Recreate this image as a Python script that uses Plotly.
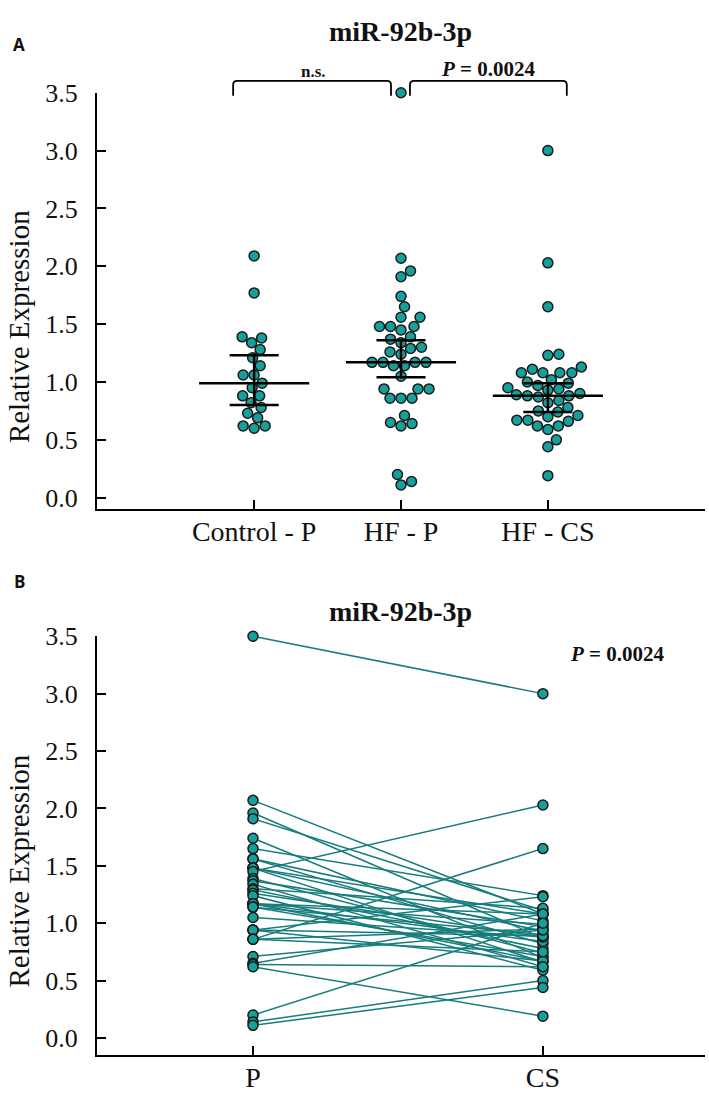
import numpy as np
import plotly.graph_objects as go

# ---------------- data ----------------
groups_a = ["Control - P", "HF - P", "HF - CS"]
control_p = [2.09, 1.77, 1.39, 1.38, 1.34, 1.28, 1.21, 1.14, 1.06, 1.06, 0.99,
             0.95, 0.88, 0.88, 0.82, 0.78, 0.73, 0.69, 0.62, 0.62, 0.60]
hf_p = [3.50, 2.07, 1.96, 1.91, 1.74, 1.65, 1.56, 1.56, 1.48, 1.48, 1.48, 1.45,
        1.39, 1.37, 1.34, 1.30, 1.29, 1.26, 1.24, 1.17, 1.17, 1.17, 1.17, 1.14,
        1.14, 1.05, 0.94, 0.94, 0.94, 0.86, 0.86, 0.86, 0.71, 0.65, 0.64, 0.62,
        0.20, 0.14, 0.11]
hf_cs = [3.00, 1.08, 0.87, 1.11, 0.70, 1.24, 0.82, 1.02, 0.66, 0.93, 1.08, 2.03,
         0.74, 0.97, 0.62, 1.13, 0.78, 0.88, 0.59, 0.99, 0.67, 1.08, 0.84, 0.71,
         0.90, 0.88, 1.23, 0.67, 0.89, 0.75, 1.65, 0.95, 0.94, 1.08, 0.62, 0.19,
         1.00, 0.50, 0.44]
center_line = [0.99, 1.17, 0.88]
lower_line = [0.80, 1.04, 0.74]
upper_line = [1.23, 1.36, 0.99]
groups_b = ["P", "CS"]
y_ticks = [0.0, 0.5, 1.0, 1.5, 2.0, 2.5, 3.0, 3.5]
title_txt = "miR-92b-3p"
p_txt = "<b><i>P</i> = 0.0024</b>"
ns_txt = "<b>n.s.</b>"

# ---------------- layout geometry ----------------
W, H = 709, 1101
X_DOM = [97 / W, 705 / W]
A_YDOM = [1 - 503 / H, 1 - 80 / H]
B_YDOM = [1 - 1057.5 / H, 1 - 632 / H]
A_XR, A_YR = [-1.07, 3.07], [-0.1, 3.5]
B_XR, B_YR = [-0.538, 1.559], [-0.15, 3.5]

FILL = "#16a09c"
EDGE = "#1a1a1a"
LINE_B = "#177c7c"
SERIF = "Liberation Serif, Times New Roman, serif"


def px_per_unit(dom, rng, total):
    return (dom[1] - dom[0]) * total / (rng[1] - rng[0])


ax_px = px_per_unit(X_DOM, A_XR, W)
ay_px = px_per_unit(A_YDOM, A_YR, H)


def swarm(vals, d=11.0):
    order = sorted(range(len(vals)), key=lambda i: vals[i])
    cands = sorted(np.arange(-80, 80.01, 0.5), key=lambda c: (abs(c), c < 0))
    placed, offs = [], [0.0] * len(vals)
    for i in order:
        y = vals[i] * ay_px
        for c in cands:
            if all((c - px) ** 2 + (y - py) ** 2 >= d * d for px, py in placed):
                break
        placed.append((c, y))
        offs[i] = c / ax_px
    return offs


fig = go.Figure()

# ---- panel A: dot plot ----
for gi, vals in enumerate([control_p, hf_p, hf_cs]):
    offs = swarm(vals)
    fig.add_trace(go.Scatter(
        x=[gi + o for o in offs], y=vals, mode="markers",
        marker=dict(size=10, color=FILL, line=dict(color=EDGE, width=1.5)),
        cliponaxis=False, showlegend=False, xaxis="x", yaxis="y"))

# mean and error lines
lx, ly = [], []
for gi in range(3):
    lx += [gi - 0.375, gi + 0.375, None, gi - 0.167, gi + 0.167, None,
           gi - 0.167, gi + 0.167, None, gi, gi, None]
    ly += [center_line[gi], center_line[gi], None, upper_line[gi], upper_line[gi], None,
           lower_line[gi], lower_line[gi], None, lower_line[gi], upper_line[gi], None]
fig.add_trace(go.Scatter(x=lx, y=ly, mode="lines", line=dict(color="black", width=2.5),
                         showlegend=False, xaxis="x", yaxis="y", hoverinfo="skip"))

# ---- panel B: paired lines ----
bx, by = [], []
for p, c in zip(hf_p, hf_cs):
    bx += [0, 1, None]
    by += [p, c, None]
fig.add_trace(go.Scatter(x=bx, y=by, mode="lines", line=dict(color=LINE_B, width=1.5),
                         showlegend=False, xaxis="x2", yaxis="y2", hoverinfo="skip"))
fig.add_trace(go.Scatter(x=[0] * len(hf_p) + [1] * len(hf_cs), y=hf_p + hf_cs, mode="markers",
                         marker=dict(size=10, color=FILL, line=dict(color=EDGE, width=1.5)),
                         cliponaxis=False, showlegend=False, xaxis="x2", yaxis="y2"))

axis_common = dict(showline=True, linecolor="black", linewidth=2, ticks="inside",
                   ticklen=9, tickwidth=1.5, tickcolor="black", showgrid=False,
                   zeroline=False)
yfont = dict(family=SERIF, size=26, color="#111")
xfont = dict(family=SERIF, size=28, color="#111")

fig.update_layout(
    width=W, height=H, margin=dict(l=0, r=0, t=0, b=0),
    paper_bgcolor="white", plot_bgcolor="white", showlegend=False,
    xaxis=dict(domain=X_DOM, range=A_XR, anchor="y", tickvals=[0, 1, 2],
               ticktext=groups_a, ticklabelstandoff=-4, tickfont=xfont, **axis_common),
    yaxis=dict(domain=A_YDOM, range=A_YR, anchor="x", tickvals=y_ticks,
               tickformat=".1f", ticklabelstandoff=12, tickfont=yfont, **axis_common),
    xaxis2=dict(domain=X_DOM, range=B_XR, anchor="y2", tickvals=[0, 1],
                ticktext=groups_b, ticklabelstandoff=-4, tickfont=xfont, **axis_common),
    yaxis2=dict(domain=B_YDOM, range=B_YR, anchor="x2", tickvals=y_ticks,
                tickformat=".1f", ticklabelstandoff=12, tickfont=yfont, **axis_common),
)


def to_paper_x(v, rng):
    return X_DOM[0] + (v - rng[0]) / (rng[1] - rng[0]) * (X_DOM[1] - X_DOM[0])


# brackets (panel A)
top_y = 1 - 68 / H
leg_y = 1 - 83 / H
for xa, xb in [(-0.143, 0.932), (1.061, 2.129)]:
    x0, x1 = to_paper_x(xa, A_XR), to_paper_x(xb, A_XR)
    r = 4 / W
    ry = 4 / H
    fig.add_shape(type="path", xref="paper", yref="paper",
                  path=f"M {x0} {leg_y} L {x0} {top_y - ry} Q {x0} {top_y} {x0 + r} {top_y} "
                       f"L {x1 - r} {top_y} Q {x1} {top_y} {x1} {top_y - ry} L {x1} {leg_y}",
                  line=dict(color="black", width=1.8))

ann = []


def add_text(txt, x, y, size, family=SERIF, angle=0):
    ann.append(dict(text=txt, x=x / W, y=1 - y / H, xref="paper", yref="paper",
                    showarrow=False, xanchor="center", yanchor="middle", textangle=angle,
                    font=dict(family=family, size=size, color="#111")))


add_text("<b>A</b>", 19, 31, 17, family="Open Sans, Arial, sans-serif")
add_text("<b>B</b>", 19, 576, 17, family="Open Sans, Arial, sans-serif")
add_text(f"<b>{title_txt}</b>", 400, 18, 28)
add_text(f"<b>{title_txt}</b>", 400, 607, 28)
add_text(ns_txt, 313, 58, 17)
add_text(p_txt, 488, 56, 21)
add_text(p_txt, 617, 650, 21)
add_text("Relative Expression", 19, 318, 29, angle=-90)
add_text("Relative Expression", 19, 871, 29, angle=-90)
fig.update_layout(annotations=ann)

fig.write_html("out.html", config={"displayModeBar": False},
               post_script="document.body.style.margin='0';")
